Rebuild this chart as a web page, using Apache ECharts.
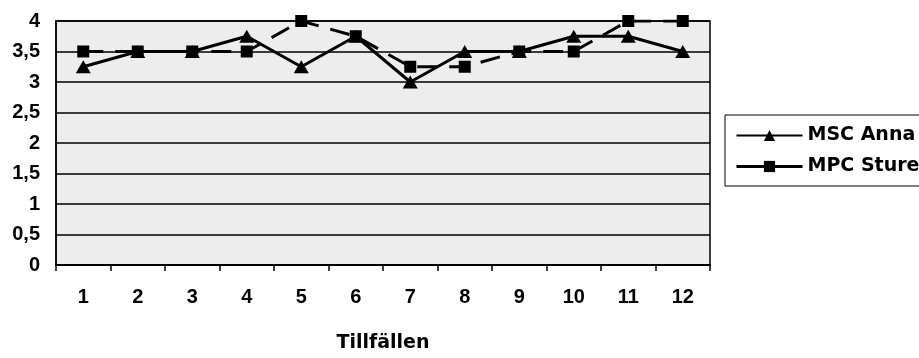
<!DOCTYPE html>
<html><head><meta charset="utf-8">
<script src="https://cdn.jsdelivr.net/npm/echarts@6/dist/echarts.min.js"></script>
<style>html,body{margin:0;padding:0;background:#fff}#c{width:919px;height:358px}</style>
</head><body><div id="c"></div>
<script>
const categories = ['1','2','3','4','5','6','7','8','9','10','11','12'];
const mscAnna = [3.25, 3.5, 3.5, 3.75, 3.25, 3.75, 3, 3.5, 3.5, 3.75, 3.75, 3.5];
const mpcSture = [3.5, 3.5, 3.5, 3.5, 4, 3.75, 3.25, 3.25, 3.5, 3.5, 4, 4];
const seriesNames = ['MSC Anna', 'MPC Sture'];
const xAxisName = 'Tillfällen';

const numFont = '"Liberation Sans", Arial, sans-serif';
const txtFont = '"DejaVu Sans", sans-serif';
const chart = echarts.init(document.getElementById('c'), null, {renderer: 'canvas'});
chart.setOption({
  animation: false,
  backgroundColor: '#fff',
  grid: {left: 56, top: 21, right: 209, bottom: 77, show: true, backgroundColor: '#ededed', borderColor: '#000', borderWidth: 1.5},
  legend: {
    orient: 'vertical', left: 725, top: 115,
    itemWidth: 66, itemHeight: 14, itemGap: 12,
    padding: [11, 80, 10, 10],
    borderColor: '#000', borderWidth: 1,
    textStyle: {fontFamily: txtFont, fontWeight: 'bold', fontSize: 19, color: '#000'},
    data: [
      {name: seriesNames[0], lineStyle: {type: 'solid', width: 2}},
      {name: seriesNames[1], lineStyle: {type: 'solid', width: 3}}
    ]
  },
  xAxis: {
    type: 'category', data: categories, boundaryGap: true,
    name: xAxisName, nameLocation: 'middle', nameGap: 69,
    nameTextStyle: {fontFamily: txtFont, fontWeight: 'bold', fontSize: 19, color: '#000'},
    axisLine: {lineStyle: {color: '#000', width: 2}},
    axisTick: {show: true, length: 6, lineStyle: {color: '#000', width: 1.5}},
    axisLabel: {margin: 22, fontFamily: numFont, fontWeight: 'bold', fontSize: 20, color: '#000'}
  },
  yAxis: {
    type: 'value', min: 0, max: 4, interval: 0.5,
    axisLine: {show: true, lineStyle: {color: '#000', width: 1.5}},
    axisTick: {show: false},
    splitLine: {lineStyle: {color: '#000', width: 1.5}},
    axisLabel: {margin: 16, fontFamily: numFont, fontWeight: 'bold', fontSize: 20, color: '#000',
      formatter: v => String(v).replace('.', ',')}
  },
  series: [
    {name: seriesNames[0], type: 'line', data: mscAnna, symbol: 'triangle', symbolSize: [15, 13],
     lineStyle: {color: '#000', width: 3}, itemStyle: {color: '#000'}, z: 3},
    {name: seriesNames[1], type: 'line', data: mpcSture, symbol: 'rect', symbolSize: 12,
     lineStyle: {color: '#000', width: 3, type: [20, 12]}, itemStyle: {color: '#000'}, z: 2}
  ]
});
</script></body></html>
